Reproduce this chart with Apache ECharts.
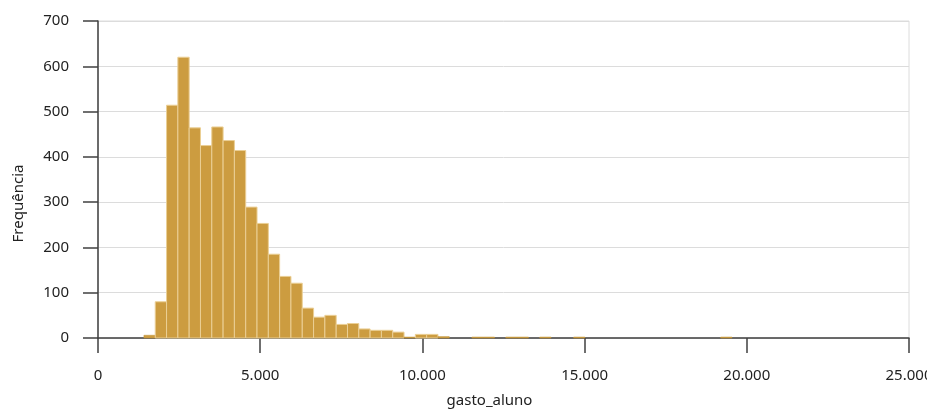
<!DOCTYPE html>
<html>
<head>
<meta charset="utf-8">
<script src="https://cdn.jsdelivr.net/npm/echarts@6/dist/echarts.min.js"></script>
<style>
html,body{margin:0;padding:0;background:#fff;}
#chart{width:927px;height:414px;}
</style>
</head>
<body>
<div id="chart"></div>
<script>
// Histogram of gasto_aluno
var binStart = 1416;
var binWidth = 348.6;
var counts = [6, 80, 514, 620, 464, 425, 466, 436, 414, 289, 253, 185, 136, 121, 66, 46, 50, 30, 32, 20,
  17, 17, 13, 2, 8, 8, 3, 0, 0, 2, 2, 0, 2, 2, 0, 2, 0, 0, 2, 0,
  0, 0, 0, 0, 0, 0, 0, 0, 0, 0, 0, 2];
var xTicks = [0, 5000, 10000, 15000, 20000, 25000];
var yTicks = [0, 100, 200, 300, 400, 500, 600, 700];
var xName = 'gasto_aluno';
var yName = 'Frequência';

var bins = counts.map(function (c, i) {
  return [binStart + i * binWidth, binStart + (i + 1) * binWidth, c];
});

var chart = echarts.init(document.getElementById('chart'), null, {renderer: 'canvas'});
var font = '"Noto Sans", sans-serif';
var textColor = '#222222';
chart.setOption({
  animation: false,
  grid: {left: 98, right: 18, top: 21, bottom: 76, show: true, borderColor: '#dcdcdc', borderWidth: 1,
    containLabel: false, outerBoundsMode: 'none'},
  xAxis: {
    type: 'value', min: xTicks[0], max: xTicks[xTicks.length - 1], interval: 5000,
    name: xName, nameLocation: 'middle', nameGap: 55,
    nameTextStyle: {fontFamily: font, fontSize: 15, color: textColor, padding: [0, 28, 0, 0]},
    axisLine: {show: true, lineStyle: {color: '#404040', width: 1.5}},
    axisTick: {show: true, length: 15, lineStyle: {color: '#404040', width: 1.5}},
    axisLabel: {
      margin: 30, fontFamily: font, fontSize: 15, color: textColor,
      formatter: function (v) { return v === 0 ? '0' : v.toLocaleString('de-DE'); }
    },
    splitLine: {show: false}
  },
  yAxis: {
    type: 'value', min: yTicks[0], max: yTicks[yTicks.length - 1], interval: 100,
    name: yName, nameLocation: 'middle', nameGap: 72, nameRotate: 90,
    nameTextStyle: {fontFamily: font, fontSize: 15, color: textColor, padding: [0, 48, 0, 0]},
    axisLine: {show: true, lineStyle: {color: '#404040', width: 1.5}},
    axisTick: {show: true, length: 15, lineStyle: {color: '#404040', width: 1.5}},
    axisLabel: {margin: 29, fontFamily: font, fontSize: 15, color: textColor},
    splitLine: {show: true, lineStyle: {color: '#dcdcdc', width: 1}}
  },
  series: [{
    type: 'custom',
    data: bins,
    encode: {x: [0, 1], y: 2},
    renderItem: function (params, api) {
      if (api.value(2) <= 0) { return null; }
      var s = api.coord([api.value(0), 0]);
      var e = api.coord([api.value(1), api.value(2)]);
      var h = s[1] - e[1];
      var small = h < 3;
      return {
        type: 'rect',
        shape: {x: s[0], y: e[1], width: e[0] - s[0], height: h},
        style: {fill: '#CC9C40', stroke: small ? '#C29539' : '#EBCF95', lineWidth: small ? 0.6 : 1}
      };
    }
  }]
});
</script>
</body>
</html>
